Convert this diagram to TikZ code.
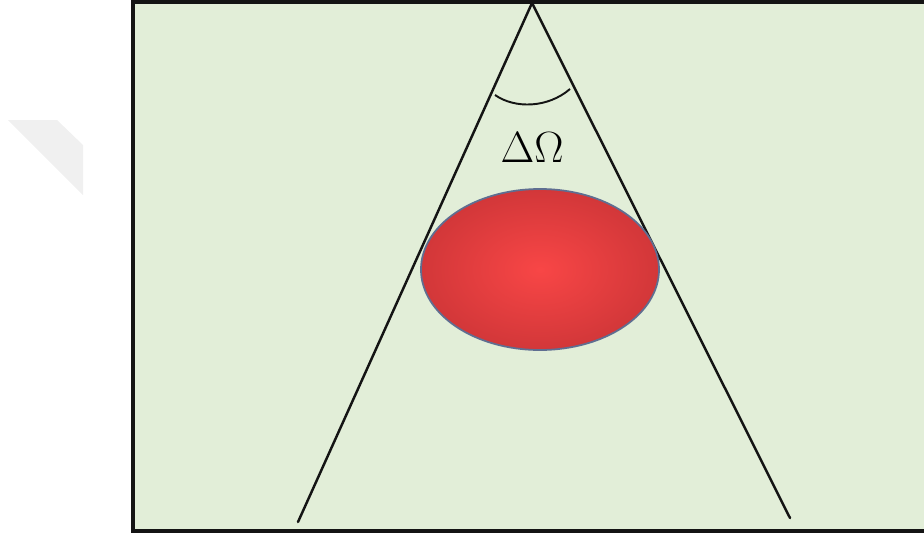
\documentclass[tikz,border=0pt]{standalone}
\usepackage{tikz}
\usetikzlibrary{calc}
\definecolor{bggreen}{RGB}{226,238,216}
\definecolor{mydark}{RGB}{20,20,20}
\definecolor{blobred}{RGB}{248,70,70}
\definecolor{blobedge}{RGB}{210,55,57}
\definecolor{blobline}{RGB}{95,110,145}
\definecolor{ghostgray}{RGB}{240,240,240}
\tikzset{
  frame/.style={draw=mydark, fill=bggreen, line width=2.3pt},
  coneline/.style={draw=mydark, line width=1.4pt, line cap=round},
  anglearc/.style={draw=mydark, line width=1.1pt},
  blob/.style={inner color=blobred, outer color=blobedge},
  bloboutline/.style={draw=blobline, line width=1pt}
}
\begin{document}
\begin{tikzpicture}[x=0.02cm, y=-0.02cm]
  \useasboundingbox (0,0) rectangle (924,538);
  \clip (0,0) rectangle (924,538);
  % faint shape at the left
  \fill[ghostgray] (8,120) -- (57,120) -- (83,145) -- (83,195) -- cycle;
  % background frame
  \draw[frame] (133,2) rectangle (930,531);

  % cone
  \coordinate (apex) at (532,3);
  \coordinate (leftend) at (298,522);
  \coordinate (rightend) at (790,518);
  \draw[coneline] (apex) -- (leftend);
  \draw[coneline] (apex) -- (rightend);

  % solid angle arc and label
  \coordinate (arcleft) at (495,95);
  \coordinate (arcright) at (570,89);
  \draw[anglearc] (arcleft) .. controls (515,109) and (548,108) .. (arcright);
  \node[font=\fontsize{26}{28}\selectfont] (omega) at (532,148) {$\Delta\Omega$};

  % red body
  \shade[blob] (540,269.5) ellipse [x radius=119, y radius=80.5];
  \draw[bloboutline] (540,269.5) ellipse [x radius=119, y radius=80.5];
\end{tikzpicture}
\end{document}
